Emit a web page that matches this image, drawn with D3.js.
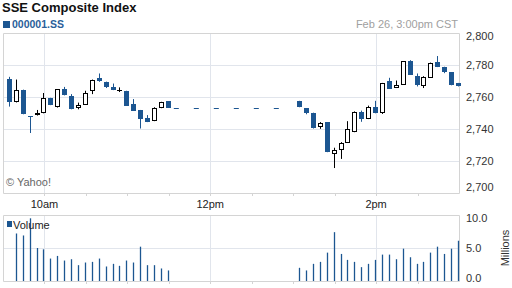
<!DOCTYPE html>
<html>
<head>
<meta charset="utf-8">
<script src="https://cdn.jsdelivr.net/npm/d3@7"></script>
<style>
  html, body { margin: 0; padding: 0; background: #fff; }
  svg { display: block; font-family: "Liberation Sans", Arial, sans-serif; }
</style>
</head>
<body>
<div id="chart"></div>
<script>
// 5-minute candles, SSE Composite, Feb 26
const times = [
  "09:35","09:40","09:45","09:50","09:55","10:00","10:05","10:10","10:15","10:20","10:25","10:30",
  "10:35","10:40","10:45","10:50","10:55","11:00","11:05","11:10","11:15","11:20","11:25","11:30",
  "13:05","13:10","13:15","13:20","13:25","13:30","13:35","13:40","13:45","13:50","13:55","14:00",
  "14:05","14:10","14:15","14:20","14:25","14:30","14:35","14:40","14:45","14:50","14:55","15:00"
];
const opens = [
  2771.5,2756.8,2764.1,2748.0,2748.6,2749.8,2759.5,2754.0,2765.2,2760.8,2753.0,2755.1,
  2763.5,2771.7,2769.6,2766.0,2764.6,2763.9,2755.7,2751.9,2747.0,2744.9,2753.0,2757.4,
  2757.2,2753.0,2750.2,2741.1,2744.3,2724.5,2727.0,2731.5,2738.2,2750.4,2746.2,2754.0,
  2750.2,2769.8,2765.6,2767.5,2782.5,2773.0,2767.1,2772.0,2782.1,2778.9,2775.5,2768.8
];
const highs = [
  2772.6,2770.9,2764.6,2748.0,2751.9,2762.5,2759.5,2765.0,2766.3,2761.8,2756.5,2763.9,
  2770.9,2774.7,2769.6,2768.4,2766.0,2763.9,2758.7,2751.9,2748.7,2753.6,2757.0,2757.4,
  2757.6,2753.0,2750.2,2744.3,2744.3,2728.3,2731.8,2744.9,2751.0,2751.5,2754.6,2757.6,
  2768.8,2772.0,2770.3,2782.5,2783.0,2774.7,2773.0,2781.5,2785.6,2778.9,2775.5,2768.8
];
const lows = [
  2754.0,2756.6,2749.2,2737.5,2748.4,2749.8,2754.9,2753.4,2761.0,2752.3,2752.3,2755.0,
  2761.8,2769.5,2765.6,2764.3,2763.1,2754.6,2751.5,2740.3,2744.3,2744.9,2753.0,2753.4,
  2753.6,2749.2,2740.3,2740.1,2725.5,2715.6,2721.3,2731.5,2738.0,2744.5,2746.2,2749.8,
  2749.4,2765.2,2765.6,2767.5,2773.9,2766.6,2765.6,2772.0,2778.7,2774.9,2767.3,2766.6
];
const closes = [
  2756.8,2764.6,2749.2,2747.6,2749.8,2759.3,2754.9,2765.0,2761.0,2752.3,2755.1,2762.5,
  2770.9,2769.8,2766.3,2764.6,2764.6,2754.6,2751.5,2746.0,2744.5,2753.0,2757.0,2753.4,
  2753.6,2750.2,2740.9,2743.5,2725.5,2727.0,2731.2,2739.7,2750.6,2746.0,2753.6,2749.8,
  2768.8,2765.2,2767.5,2782.5,2773.9,2767.3,2772.6,2781.5,2778.7,2775.5,2767.3,2766.6
];
// volume, millions of shares
const volumes = [
  null,7.2,6.9,9.5,5.0,4.8,3.4,3.8,3.1,3.3,2.4,2.8,
  2.9,3.4,2.2,2.6,2.3,3.1,2.8,5.2,2.4,2.4,1.9,1.6,
  2.0,1.6,2.6,2.9,4.3,7.4,4.1,3.2,2.9,2.1,2.6,3.2,
  4.0,4.0,3.3,4.9,3.6,2.6,2.9,4.3,5.2,4.1,4.9,6.1
];
const priceTicks = [2700, 2720, 2740, 2760, 2780, 2800];
const volumeTicks = [0, 5, 10];
const timeLabels = [{ t: "10:00", label: "10am" }, { t: "12:00", label: "12pm" }, { t: "14:00", label: "2pm" }];
const lunch = { from: "11:30", to: "13:00", value: 2753.4 };

const W = 512, H = 288;
const blue = "#1c5691";
const gridColor = "#e1e5ec";
const frameColor = "#d4d4d4";

const parse = d3.timeParse("%H:%M");
const candles = times.map((t, i) => ({
  t: parse(t), open: opens[i], high: highs[i], low: lows[i], close: closes[i], vol: volumes[i]
}));

const x = d3.scaleTime().domain([parse("09:30"), parse("15:00")]).range([3, 459]);
const y = d3.scaleLinear().domain([2700, 2800]).range([193, 33]);
const vy = d3.scaleLinear().domain([0, 10]).range([281, 215]);

const svg = d3.select("#chart").append("svg")
  .attr("width", W).attr("height", H);

// header
svg.append("text").attr("x", 2).attr("y", 12)
  .attr("font-size", 13).attr("font-weight", "bold").attr("fill", "#111")
  .text("SSE Composite Index");
svg.append("rect").attr("x", 3).attr("y", 21).attr("width", 7).attr("height", 7).attr("fill", blue);
svg.append("text").attr("x", 12).attr("y", 28)
  .attr("font-size", 10.5).attr("font-weight", "bold").attr("fill", "#2a5f9a")
  .text("000001.SS");
svg.append("text").attr("x", 458).attr("y", 28).attr("text-anchor", "end")
  .attr("font-size", 11).attr("fill", "#a0a0a0")
  .text("Feb 26, 3:00pm CST");

// panels: grids + frames
const drawPanel = (yTop, yBot, hGrid) => {
  const g = svg.append("g");
  g.selectAll(".hg").data(hGrid).enter().append("line")
    .attr("x1", 3).attr("x2", 459)
    .attr("y1", d => Math.round(d) + 0.5).attr("y2", d => Math.round(d) + 0.5)
    .attr("stroke", gridColor);
  g.selectAll(".vg").data(timeLabels).enter().append("line")
    .attr("x1", d => Math.round(x(parse(d.t))) + 0.5).attr("x2", d => Math.round(x(parse(d.t))) + 0.5)
    .attr("y1", yTop).attr("y2", yBot)
    .attr("stroke", gridColor);
  // minor ticks every 30 minutes
  const ticks = d3.timeMinute.every(30).range(parse("10:00"), parse("15:00"));
  g.selectAll(".tk").data(ticks).enter().append("line")
    .attr("x1", d => Math.round(x(d)) + 0.5).attr("x2", d => Math.round(x(d)) + 0.5)
    .attr("y1", yBot).attr("y2", yBot + 3)
    .attr("stroke", frameColor);
  g.append("path")
    .attr("d", `M3.5,${yBot + 0.5}V${yTop + 0.5}H459.5V${yBot + 0.5}H3.5`)
    .attr("fill", "none").attr("stroke", frameColor);
};
drawPanel(33, 193, priceTicks.slice(1, -1).map(y));
drawPanel(215, 281, [vy(5)]);

// right axis labels
svg.selectAll(".py").data(priceTicks).enter().append("text")
  .attr("x", 466).attr("y", d => Math.min(Math.max(y(d), 36), 187))
  .attr("dy", "0.35em").attr("font-size", 11).attr("fill", "#333")
  .text(d => d3.format(",")(d));
svg.selectAll(".vyl").data(volumeTicks).enter().append("text")
  .attr("x", 466).attr("y", d => Math.min(Math.max(vy(d), 218), 278))
  .attr("dy", "0.35em").attr("font-size", 11).attr("fill", "#333")
  .text(d => d3.format(".1f")(d));
svg.append("text")
  .attr("transform", "translate(509,248) rotate(-90)")
  .attr("text-anchor", "middle").attr("font-size", 11).attr("fill", "#333")
  .text("Millions");

// time labels
svg.selectAll(".tl").data(timeLabels).enter().append("text")
  .attr("x", d => x(parse(d.t))).attr("y", 208)
  .attr("text-anchor", "middle").attr("font-size", 11).attr("fill", "#222")
  .text(d => d.label);

svg.append("text").attr("x", 6).attr("y", 186)
  .attr("font-size", 11).attr("fill", "#666").text("\u00a9 Yahoo!");

// lunch break flat line
svg.append("line")
  .attr("x1", x(parse(lunch.from))).attr("x2", x(parse(lunch.to)))
  .attr("y1", Math.round(y(lunch.value)) + 0.5).attr("y2", Math.round(y(lunch.value)) + 0.5)
  .attr("stroke", blue).attr("stroke-width", 1)
  .attr("stroke-dasharray", "5,15").attr("stroke-dashoffset", 15);

// candles
const cg = svg.append("g");
candles.forEach(d => {
  const cx = Math.round(x(d.t));
  const up = d.close > d.open, down = d.close < d.open;
  const col = down ? blue : "#000";
  cg.append("line")
    .attr("x1", cx - 0.5).attr("x2", cx - 0.5)
    .attr("y1", y(d.high)).attr("y2", y(d.low))
    .attr("stroke", col);
  const top = Math.round(y(Math.max(d.open, d.close)));
  const bot = Math.round(y(Math.min(d.open, d.close)));
  if (down) {
    cg.append("rect").attr("x", cx - 3).attr("y", top)
      .attr("width", 5).attr("height", Math.max(1, bot - top)).attr("fill", blue);
  } else if (up) {
    cg.append("rect").attr("x", cx - 2.5).attr("y", top + 0.5)
      .attr("width", 4).attr("height", Math.max(1, bot - top - 1))
      .attr("fill", "#fff").attr("stroke", "#000");
  } else {
    cg.append("line").attr("x1", cx - 3).attr("x2", cx + 2)
      .attr("y1", top + 0.5).attr("y2", top + 0.5).attr("stroke", "#000");
  }
});

// volume bars
svg.append("g").selectAll("line")
  .data(candles.filter(d => d.vol != null))
  .enter().append("line")
  .attr("x1", d => Math.round(x(d.t)) - 0.5).attr("x2", d => Math.round(x(d.t)) - 0.5)
  .attr("y1", vy(0)).attr("y2", d => vy(d.vol))
  .attr("stroke", blue).attr("stroke-width", 1.3);

// volume legend
svg.append("rect").attr("x", 7).attr("y", 221).attr("width", 5).attr("height", 6).attr("fill", blue);
svg.append("text").attr("x", 13).attr("y", 229)
  .attr("font-size", 11).attr("fill", "#222").text("Volume");
</script>
</body>
</html>
